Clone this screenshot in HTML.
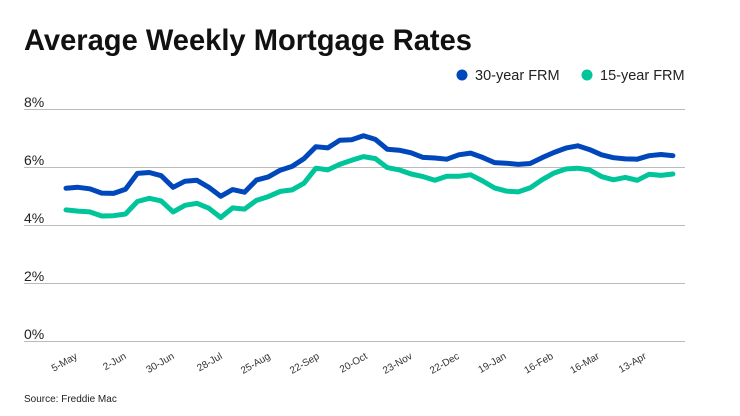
<!DOCTYPE html>
<html><head><meta charset="utf-8"><style>
body{margin:0;background:#fff;width:740px;height:416px;overflow:hidden}
svg{display:block;font-family:"Liberation Sans",sans-serif}
</style></head><body>
<svg id="s" width="740" height="416" viewBox="0 0 740 416">
<text x="24" y="50" font-size="30" font-weight="bold" fill="#111" textLength="448" lengthAdjust="spacingAndGlyphs">Average Weekly Mortgage Rates</text>
<circle cx="462" cy="75" r="5.5" fill="#0047bb"/>
<text x="475" y="80" font-size="14.5" fill="#222">30-year FRM</text>
<circle cx="587" cy="75" r="5.5" fill="#00c49a"/>
<text x="600" y="80" font-size="14.5" fill="#222">15-year FRM</text>
<g stroke="#bbb" stroke-width="1">
<line x1="24" x2="685" y1="109.5" y2="109.5"/>
<line x1="24" x2="685" y1="167.5" y2="167.5"/>
<line x1="24" x2="685" y1="225.5" y2="225.5"/>
<line x1="24" x2="685" y1="283.5" y2="283.5"/>
<line x1="24" x2="685" y1="341.5" y2="341.5"/>
</g>
<g font-size="14" fill="#222">
<text x="24" y="107">8%</text><text x="24" y="165">6%</text><text x="24" y="223">4%</text><text x="24" y="281">2%</text><text x="24" y="339">0%</text>
</g>
<g id="xl" font-size="10" fill="#333" text-anchor="end"></g>
<polyline id="b" fill="none" stroke="#0047bb" stroke-width="5" stroke-linejoin="round" stroke-linecap="round"/>
<polyline id="g" fill="none" stroke="#00c49a" stroke-width="5" stroke-linejoin="round" stroke-linecap="round"/>
<text x="24" y="402" font-size="10" fill="#222">Source: Freddie Mac</text>
</svg>
<script>
var B=[5.27,5.3,5.25,5.1,5.09,5.23,5.78,5.81,5.7,5.3,5.51,5.54,5.3,4.99,5.22,5.13,5.55,5.66,5.89,6.02,6.29,6.7,6.66,6.92,6.94,7.08,6.95,6.61,6.58,6.49,6.33,6.31,6.27,6.42,6.48,6.33,6.15,6.13,6.09,6.12,6.32,6.5,6.65,6.73,6.6,6.42,6.32,6.28,6.27,6.39,6.43,6.39];
var G=[4.52,4.48,4.45,4.31,4.32,4.38,4.81,4.92,4.83,4.45,4.68,4.75,4.58,4.26,4.59,4.55,4.85,4.98,5.16,5.21,5.44,5.96,5.9,6.09,6.23,6.36,6.29,5.98,5.9,5.76,5.67,5.54,5.68,5.68,5.73,5.52,5.28,5.17,5.14,5.28,5.56,5.79,5.93,5.96,5.9,5.67,5.56,5.64,5.54,5.75,5.71,5.76];
function p(a){return a.map(function(v,i){return (66+i*11.9).toFixed(1)+","+(341-v*29).toFixed(1)}).join(" ")}
document.getElementById("b").setAttribute("points",p(B));
document.getElementById("g").setAttribute("points",p(G));
var L=[["5-May",63],["2-Jun",112],["30-Jun",160],["28-Jul",208],["25-Aug",256],["22-Sep",305],["20-Oct",353],["23-Nov",398],["22-Dec",445],["19-Jan",492],["16-Feb",539],["16-Mar",585],["13-Apr",632]];
var h="";L.forEach(function(l){var x=l[1]+15,y=358;h+='<text x="'+x+'" y="'+y+'" transform="rotate(-30 '+x+' '+y+')">'+l[0]+'</text>'});
document.getElementById("xl").innerHTML=h;
</script>
</body></html>
